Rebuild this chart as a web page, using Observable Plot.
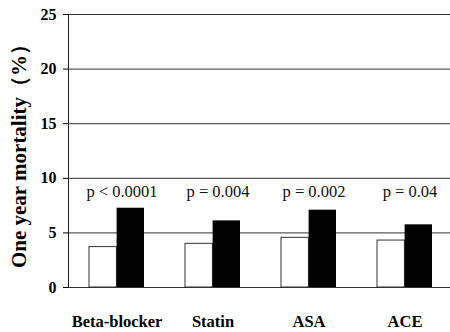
<!DOCTYPE html>
<html><head><meta charset="utf-8">
<script src="https://cdn.jsdelivr.net/npm/d3@7"></script>
<script src="https://cdn.jsdelivr.net/npm/@observablehq/plot@0.6"></script>
<style>body{margin:0;background:#fff}</style>
</head><body><div id="chart"></div>
<script>
const categories = ["Beta-blocker", "Statin", "ASA", "ACE"];
const treated = [3.7, 4.0, 4.55, 4.3];
const untreated = [7.26, 6.1, 7.08, 5.74];
const pValues = ["p < 0.0001", "p = 0.004", "p = 0.002", "p = 0.04"];
const yTicks = [0, 5, 10, 15, 20, 25];
const yLabel = "One year mortality（%）";
const pLevel = 8.8;

const rows = categories.map((c, i) => ({category: c, treated: treated[i], untreated: untreated[i], p: pValues[i]}));
const halfBand = 27.6;

const chart = Plot.plot({
  width: 450, height: 332,
  marginLeft: 68, marginRight: 0, marginTop: 14, marginBottom: 45,
  style: {fontFamily: "'Liberation Serif', 'Times New Roman', serif", background: "#fff", color: "#000"},
  x: {domain: categories, range: [47, 474], padding: 0.427, label: null},
  y: {domain: [0, 25], ticks: yTicks, label: null},
  marks: [
    Plot.ruleY(yTicks, {stroke: "#333", strokeWidth: 1}),
    Plot.frame({anchor: "left", stroke: "#222"}),
    Plot.barY(rows, {x: "category", y: "treated", fill: "#fff", stroke: "#333", strokeWidth: 1, insetRight: halfBand}),
    Plot.barY(rows, {x: "category", y: "untreated", fill: "#000", insetLeft: halfBand}),
    Plot.text(rows, {x: "category", y: () => pLevel, text: "p", dx: 5, fontSize: 16.5, lineAnchor: "middle", fill: "#111"}),
    Plot.axisY({ticks: yTicks, tickSize: 5, tickPadding: 7, fontSize: 16, fontWeight: "bold", label: null, fill: "#000"}),
    Plot.axisX({tickSize: 0, tickPadding: 28, fontSize: 16.5, fontWeight: "bold", label: null, fill: "#000"}),
    Plot.text([yLabel], {frameAnchor: "left", rotate: -90, dx: -57, textAnchor: "middle", lineAnchor: "top", fontSize: 21, fontWeight: "bold", fill: "#000"})
  ]
});
document.getElementById("chart").append(chart);
</script>
</body></html>
